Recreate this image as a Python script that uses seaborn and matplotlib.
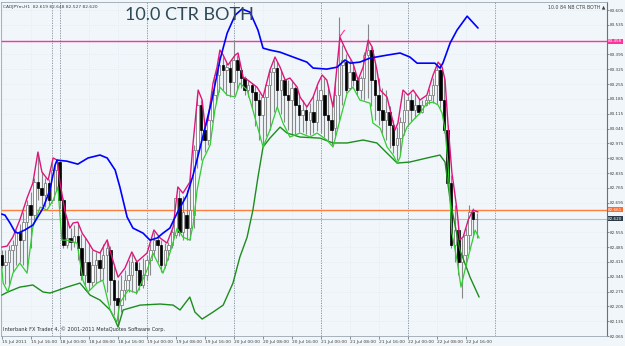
import matplotlib
matplotlib.use("Agg")
import matplotlib.pyplot as plt
import matplotlib.transforms as mtransforms
import numpy as np
import pandas as pd
import seaborn as sns

# ---------------- data (CADJPYm, H1) ----------------
opens = [82.447, 82.400, 82.414, 82.471, 82.495, 82.556, 82.518, 82.603, 82.684, 82.636,
 82.792, 82.764, 82.731, 82.788, 82.707, 82.849, 82.887, 82.707, 82.495, 82.528,
 82.509, 82.537, 82.480, 82.353, 82.414, 82.320, 82.400, 82.424, 82.386, 82.447,
 82.471, 82.329, 82.244, 82.211, 82.282, 82.329, 82.353, 82.414, 82.377, 82.306,
 82.353, 82.424, 82.471, 82.518, 82.495, 82.400, 82.471, 82.495, 82.542, 82.717,
 82.556, 82.636, 82.575, 82.636, 82.943, 83.156, 83.038, 82.991, 83.085, 83.203,
 83.298, 83.345, 83.321, 83.331, 83.265, 83.369, 83.321, 83.284, 83.227, 83.250,
 83.217, 83.180, 83.109, 83.194, 83.250, 83.312, 83.331, 83.227, 83.274, 83.203,
 83.180, 83.236, 83.156, 83.109, 83.132, 83.085, 83.123, 83.076, 83.180, 83.203,
 83.109, 83.085, 83.047, 83.203, 83.345, 83.359, 83.236, 83.312, 83.274, 83.227,
 83.284, 83.392, 83.416, 83.274, 83.203, 83.132, 83.085, 83.123, 83.062, 82.967,
 83.000, 83.076, 83.132, 83.180, 83.132, 83.156, 83.123, 83.156, 83.180, 83.203,
 83.250, 83.321, 83.180, 83.038, 82.788, 82.495, 82.565, 82.414, 82.447, 82.542,
 82.650, 82.619]
highs = [82.471, 82.471, 82.495, 82.518, 82.565, 82.594, 82.650, 82.707, 82.745, 82.811,
 82.925, 82.839, 82.811, 82.806, 82.887, 82.896, 82.896, 82.717, 82.613, 82.575,
 82.589, 82.594, 82.547, 82.528, 82.504, 82.471, 82.462, 82.462, 82.499, 82.509,
 82.490, 82.396, 82.329, 82.353, 82.377, 82.424, 82.452, 82.424, 82.414, 82.433,
 82.447, 82.499, 82.556, 82.537, 82.518, 82.504, 82.509, 82.565, 82.731, 82.754,
 82.726, 82.754, 82.811, 82.967, 83.203, 83.180, 83.057, 83.095, 83.227, 83.321,
 83.387, 83.383, 83.354, 83.359, 83.463, 83.392, 83.331, 83.293, 83.274, 83.260,
 83.246, 83.213, 83.203, 83.260, 83.321, 83.369, 83.359, 83.321, 83.284, 83.274,
 83.274, 83.246, 83.213, 83.180, 83.151, 83.165, 83.199, 83.246, 83.284, 83.284,
 83.250, 83.165, 83.265, 83.572, 83.439, 83.397, 83.369, 83.340, 83.284, 83.293,
 83.406, 83.539, 83.430, 83.354, 83.284, 83.236, 83.227, 83.151, 83.085, 83.052,
 83.099, 83.213, 83.199, 83.213, 83.208, 83.184, 83.180, 83.199, 83.232, 83.284,
 83.340, 83.354, 83.284, 83.062, 82.825, 82.684, 82.613, 82.528, 82.575, 82.684,
 82.669, 82.648]
lows = [82.386, 82.310, 82.301, 82.367, 82.400, 82.414, 82.400, 82.377, 82.480, 82.603,
 82.707, 82.679, 82.674, 82.684, 82.698, 82.754, 82.669, 82.480, 82.480, 82.471,
 82.485, 82.424, 82.329, 82.306, 82.282, 82.301, 82.315, 82.325, 82.329, 82.273,
 82.211, 82.164, 82.117, 82.178, 82.235, 82.273, 82.273, 82.263, 82.282, 82.292,
 82.329, 82.353, 82.443, 82.414, 82.367, 82.386, 82.424, 82.480, 82.528, 82.537,
 82.518, 82.518, 82.518, 82.575, 82.858, 82.896, 82.934, 82.967, 83.076, 83.165,
 83.217, 83.227, 83.203, 83.194, 83.203, 83.227, 83.236, 83.203, 83.194, 83.142,
 83.057, 82.991, 82.967, 83.009, 83.038, 83.123, 83.142, 83.113, 83.076, 83.038,
 83.014, 83.019, 83.028, 83.028, 83.019, 83.014, 83.024, 83.033, 83.024, 83.005,
 82.991, 82.967, 83.009, 83.085, 83.156, 83.213, 83.232, 83.246, 83.203, 83.184,
 83.180, 83.189, 83.151, 83.085, 83.062, 83.024, 82.991, 82.953, 82.929, 82.896,
 82.925, 83.014, 83.057, 83.080, 83.095, 83.113, 83.118, 83.151, 83.161, 83.165,
 83.161, 83.142, 83.024, 82.773, 82.480, 82.414, 82.353, 82.244, 82.400, 82.471,
 82.542, 82.527]
closes = [82.400, 82.414, 82.471, 82.495, 82.556, 82.518, 82.603, 82.684, 82.636, 82.792,
 82.764, 82.731, 82.788, 82.707, 82.849, 82.887, 82.707, 82.495, 82.528, 82.509,
 82.537, 82.480, 82.353, 82.414, 82.320, 82.400, 82.424, 82.386, 82.447, 82.480,
 82.329, 82.235, 82.211, 82.282, 82.329, 82.353, 82.414, 82.377, 82.306, 82.353,
 82.424, 82.471, 82.518, 82.495, 82.400, 82.471, 82.495, 82.556, 82.717, 82.556,
 82.650, 82.575, 82.660, 82.943, 83.156, 83.038, 82.991, 83.085, 83.203, 83.298,
 83.345, 83.321, 83.335, 83.265, 83.369, 83.321, 83.284, 83.227, 83.250, 83.217,
 83.180, 83.109, 83.194, 83.250, 83.312, 83.331, 83.227, 83.274, 83.203, 83.180,
 83.236, 83.156, 83.109, 83.132, 83.085, 83.123, 83.076, 83.180, 83.227, 83.109,
 83.085, 83.038, 83.203, 83.345, 83.369, 83.227, 83.312, 83.274, 83.227, 83.284,
 83.392, 83.416, 83.274, 83.203, 83.132, 83.085, 83.123, 83.062, 82.967, 83.000,
 83.076, 83.132, 83.180, 83.132, 83.156, 83.123, 83.156, 83.180, 83.203, 83.250,
 83.321, 83.180, 83.038, 82.788, 82.495, 82.565, 82.414, 82.447, 82.542, 82.650,
 82.617, 82.620]

# indicator lines: (bar position, price) vertices
pink_bar = [0, 1.5, 3.1, 5.0, 7.0, 8.6, 10.0, 11.1, 12.8, 14.2, 15.3, 16.1, 17.5, 18.8, 19.7, 21.0,
 22.2, 23.5, 25.2, 27.1, 29.1, 30.4, 32.1, 34.0, 35.9, 37.3, 40.1, 42.0, 43.7, 45.6, 47.3, 48.6,
 50.0, 51.9, 52.8, 54.2, 55.3, 56.1, 56.9, 58.3, 59.4, 60.2, 61.1, 62.4, 64.4, 65.2, 66.6, 67.9,
 70.4, 72.1, 74.0, 75.4, 76.8, 78.2, 79.5, 81.5, 82.3, 84.2, 85.9, 87.3, 88.4, 89.7, 91.4, 93.3,
 95.3, 96.9, 98.3, 99.7, 101.1, 102.2, 103.5, 104.4, 106.3, 108.5, 109.3, 110.7, 112.1, 113.5,
 115.4, 117.3, 119.0, 120.4, 121.5, 122.3, 123.1, 124.2, 124.6, 125.6, 126.4, 127.3, 128.7,
 130.0, 131.4]
pink_price = [82.485, 82.490, 82.533, 82.613, 82.717, 82.788, 82.934, 82.840, 82.802, 82.906,
 82.896, 82.788, 82.651, 82.575, 82.599, 82.603, 82.551, 82.519, 82.471, 82.457, 82.519, 82.438,
 82.343, 82.386, 82.462, 82.415, 82.457, 82.566, 82.528, 82.504, 82.580, 82.769, 82.740, 82.792,
 82.977, 83.227, 83.180, 83.052, 83.085, 83.260, 83.335, 83.416, 83.392, 83.345, 83.392, 83.402,
 83.288, 83.274, 83.241, 83.194, 83.322, 83.383, 83.335, 83.274, 83.284, 83.241, 83.194, 83.147,
 83.194, 83.260, 83.298, 83.274, 83.147, 83.477, 83.402, 83.354, 83.274, 83.335, 83.463, 83.430,
 83.322, 83.227, 83.194, 83.038, 83.071, 83.227, 83.203, 83.227, 83.180, 83.203, 83.298, 83.359,
 83.335, 83.274, 83.071, 82.835, 82.788, 82.660, 82.519, 82.533, 82.613, 82.660, 82.651]

lgreen_bar = [0, 0.4, 1.7, 3.1, 5.0, 7.0, 8.6, 10.6, 12.5, 14.2, 15.5, 16.6, 18.0, 20.8, 22.4,
 23.8, 26.3, 27.9, 29.9, 31.8, 32.6, 34.9, 37.3, 40.1, 41.7, 44.5, 46.4, 48.4, 50.0, 51.9, 52.8,
 53.9, 55.5, 57.5, 58.8, 60.2, 62.2, 64.4, 65.7, 67.7, 69.3, 72.1, 74.0, 76.0, 77.6, 79.5, 82.3,
 85.1, 87.0, 89.7, 91.4, 93.3, 95.3, 96.9, 98.8, 101.6, 102.4, 104.4, 106.3, 108.0, 109.1, 109.9,
 110.7, 111.8, 113.5, 115.4, 117.3, 119.0, 120.4, 121.5, 122.3, 123.1, 124.2, 125.6, 126.7,
 127.8, 129.2, 130.6, 131.7]
lgreen_price = [82.391, 82.315, 82.273, 82.362, 82.410, 82.362, 82.580, 82.674, 82.660, 82.707,
 82.769, 82.518, 82.518, 82.504, 82.329, 82.273, 82.315, 82.329, 82.188, 82.131, 82.221, 82.282,
 82.268, 82.377, 82.457, 82.362, 82.457, 82.575, 82.532, 82.518, 82.589, 82.754, 82.896, 82.967,
 83.132, 83.241, 83.203, 83.194, 83.260, 83.227, 83.132, 82.958, 83.038, 83.147, 83.071, 83.005,
 83.024, 83.005, 83.024, 82.991, 82.958, 83.085, 83.213, 83.241, 83.180, 83.165, 83.071, 83.047,
 82.958, 82.920, 82.882, 82.910, 83.005, 83.052, 83.085, 83.118, 83.165, 83.170, 83.156, 83.118,
 83.038, 82.882, 82.551, 82.424, 82.296, 82.377, 82.471, 82.565, 82.528]

dgreen_bar = [0, 1.7, 5.0, 8.6, 11.4, 13.3, 14.2, 18.0, 21.6, 24.4, 27.1, 29.9, 31.3, 32.1, 33.5,
 38.2, 43.7, 47.3, 49.2, 51.9, 53.3, 55.3, 58.3, 61.1, 63.8, 65.7, 67.7, 69.3, 70.7, 72.1, 74.0,
 76.8, 78.7, 82.3, 87.8, 91.4, 95.3, 99.7, 103.5, 106.3, 109.1, 112.6, 117.3, 120.9, 122.3,
 123.7, 126.4, 129.2, 131.7]
dgreen_price = [82.258, 82.273, 82.296, 82.306, 82.273, 82.268, 82.273, 82.296, 82.315, 82.258,
 82.235, 82.188, 82.140, 82.107, 82.188, 82.211, 82.216, 82.211, 82.188, 82.249, 82.178, 82.145,
 82.178, 82.211, 82.315, 82.438, 82.532, 82.660, 82.816, 82.958, 83.000, 83.052, 83.024, 83.005,
 83.000, 82.977, 82.977, 82.991, 82.977, 82.929, 82.882, 82.887, 82.906, 82.920, 82.887, 82.707,
 82.471, 82.343, 82.249]

blue_bar = [0, 0.9, 2.3, 3.7, 4.5, 6.4, 8.6, 11.4, 13.3, 14.7, 15.3, 18.0, 21.0, 23.8, 27.1, 29.1,
 31.3, 32.6, 34.6, 36.2, 39.0, 40.9, 42.9, 44.5, 46.4, 48.4, 51.1, 52.8, 54.7, 58.0, 60.2, 62.2,
 64.4, 66.3, 68.5, 70.7, 72.1, 74.0, 76.8, 80.4, 84.2, 85.9, 89.7, 92.5, 94.7, 96.1, 98.8, 101.6,
 106.3, 109.9, 112.6, 114.6, 119.5, 120.9, 121.7, 123.7, 125.6, 128.4, 131.4]
blue_price = [82.641, 82.636, 82.599, 82.556, 82.551, 82.566, 82.589, 82.669, 82.754, 82.872,
 82.896, 82.891, 82.877, 82.906, 82.920, 82.906, 82.849, 82.769, 82.627, 82.575, 82.551, 82.518,
 82.528, 82.551, 82.575, 82.646, 82.731, 82.825, 82.953, 83.180, 83.369, 83.496, 83.581, 83.610,
 83.595, 83.510, 83.425, 83.416, 83.406, 83.383, 83.359, 83.331, 83.326, 83.335, 83.369, 83.354,
 83.359, 83.378, 83.392, 83.402, 83.383, 83.354, 83.354, 83.331, 83.354, 83.449, 83.510, 83.576,
 83.520]

level_pink = 83.458
level_orange = 82.661
bid_price = 82.620

time_tick_bars = [0, 8, 16, 24, 32, 40, 48, 56, 64, 72, 80, 88, 96, 104, 112, 120, 128]
time_labels = ["15 Jul 2011", "15 Jul 16:00", "18 Jul 00:00", "18 Jul 08:00", "18 Jul 16:00",
               "19 Jul 00:00", "19 Jul 08:00", "19 Jul 16:00", "20 Jul 00:00", "20 Jul 08:00",
               "20 Jul 16:00", "21 Jul 00:00", "21 Jul 08:00", "21 Jul 16:00", "22 Jul 00:00",
               "22 Jul 08:00", "22 Jul 16:00"]
separator_bars = [14, 16, 40, 64, 88, 112, 136]
price_ticks = [82.065, 82.135, 82.205, 82.275, 82.345, 82.415, 82.485, 82.555, 82.695, 82.765,
               82.835, 82.905, 82.975, 83.045, 83.115, 83.185, 83.255, 83.325, 83.395, 83.535,
               83.605]
signal_bar = 93.6
signal_price = 83.49

# ---------------- drawing ----------------
sns.set_theme(style="white")
plt.rcParams["font.family"] = ["DejaVu Sans"]

BG = "#F0F6FA"
fig = plt.figure(figsize=(6.25, 3.46), dpi=100)
fig.patch.set_facecolor(BG)
ax = fig.add_axes([0.0016, 0.0289, 0.9696, 0.9653])
ax.set_facecolor(BG)

x = np.arange(len(closes))
o = np.array(opens); h = np.array(highs); l = np.array(lows); c = np.array(closes)

for yv in price_ticks:
    ax.axhline(yv, color="#DCE6EE", lw=0.5, ls=(0, (1, 2)), zorder=0)
for xv in time_tick_bars:
    ax.axvline(xv, color="#DCE6EE", lw=0.5, ls=(0, (1, 2)), zorder=0)
for b in separator_bars:
    ax.axvline(b, color="#7F8C99", lw=0.6, ls=(0, (1.5, 1.5)), zorder=1)

ax.axhline(level_pink, color="#FF3399", lw=1.0, zorder=1)
ax.axhline(level_orange, color="#FF7F3F", lw=1.0, zorder=1)
ax.axhline(bid_price, color="#B4C0C9", lw=0.8, zorder=1)

ax.vlines(x, l, h, color="#888888", lw=0.8, zorder=2)
bull = c >= o
ax.bar(x[bull], np.maximum((c - o)[bull], 0.0008), bottom=o[bull], width=0.66,
       color="white", edgecolor="#808080", lw=0.6, zorder=3)
ax.bar(x[~bull], (o - c)[~bull], bottom=c[~bull], width=0.66,
       color="black", edgecolor="black", lw=0.5, zorder=3)


def draw_line(bx, py, color, lw):
    df = pd.DataFrame({"bar": bx, "price": py})
    sns.lineplot(data=df, x="bar", y="price", ax=ax, color=color, lw=lw,
                 sort=False, estimator=None, legend=False, zorder=4)


draw_line(dgreen_bar, dgreen_price, "#1E8C1E", 1.0)
draw_line(lgreen_bar, lgreen_price, "#33CC33", 0.9)
draw_line(pink_bar, pink_price, "#E0157A", 1.0)
draw_line(blue_bar, blue_price, "#0000FF", 1.2)

ax.text(signal_bar, signal_price, "\u2713", fontsize=9, color="#FF3399", ha="center",
        va="center", zorder=5)

ax.set_xlim(-0.19, 166.98)
ax.set_ylim(82.065, 83.643)
ax.set_xlabel("")
ax.set_ylabel("")

ax.set_xticks(time_tick_bars)
ax.set_xticklabels(time_labels, fontsize=3.2, ha="left", color="#404040")
ax.tick_params(axis="x", bottom=True, length=2, width=0.5, pad=0.8, color="#606060")
ax.yaxis.tick_right()
ax.set_yticks(price_ticks)
ax.set_yticklabels([f"{p:.3f}" for p in price_ticks])
ax.tick_params(axis="y", right=True, left=False, length=1.5, width=0.5, pad=0.6,
               labelsize=3.0, labelcolor="#404040", color="#606060")
for s in ["left", "top", "bottom"]:
    ax.spines[s].set_color("#9AA6B0")
    ax.spines[s].set_linewidth(0.6)
ax.spines["right"].set_color("#707070")
ax.spines["right"].set_linewidth(0.8)

bt = mtransforms.blended_transform_factory(ax.transAxes, ax.transData)
for val, fc in [(level_pink, "#FF3399"), (level_orange, "#FF6A2A"), (bid_price, "#2B3A46")]:
    ax.text(1.002, val, f"{val:.3f}", transform=bt, ha="left", va="center", fontsize=3.0,
            color="white", clip_on=False, zorder=6,
            bbox=dict(boxstyle="square,pad=0.15", fc=fc, ec="none"))

fig.text(3 / 625, 1 - 8 / 346, "CADJPYm,H1  82.619 82.648 82.527 82.620", fontsize=3.2,
         color="#404040", va="baseline")
fig.text(125 / 625, 1 - 19.5 / 346, "10.0 CTR BOTH", fontsize=13, family="Lato",
         color="#2F4A56", va="baseline")
fig.text(605 / 625, 1 - 8 / 346, "10.0 84 NB CTR BOTH \u25b2", fontsize=3.4, ha="right",
         va="baseline", color="#404040")
fig.text(3 / 625, 1 - 331 / 346,
         "Interbank FX Trader 4, \u00a9 2001-2011 MetaQuotes Software Corp.", fontsize=3.6,
         va="baseline", color="#303030")

fig.savefig("out.png", dpi=100, facecolor=BG)
